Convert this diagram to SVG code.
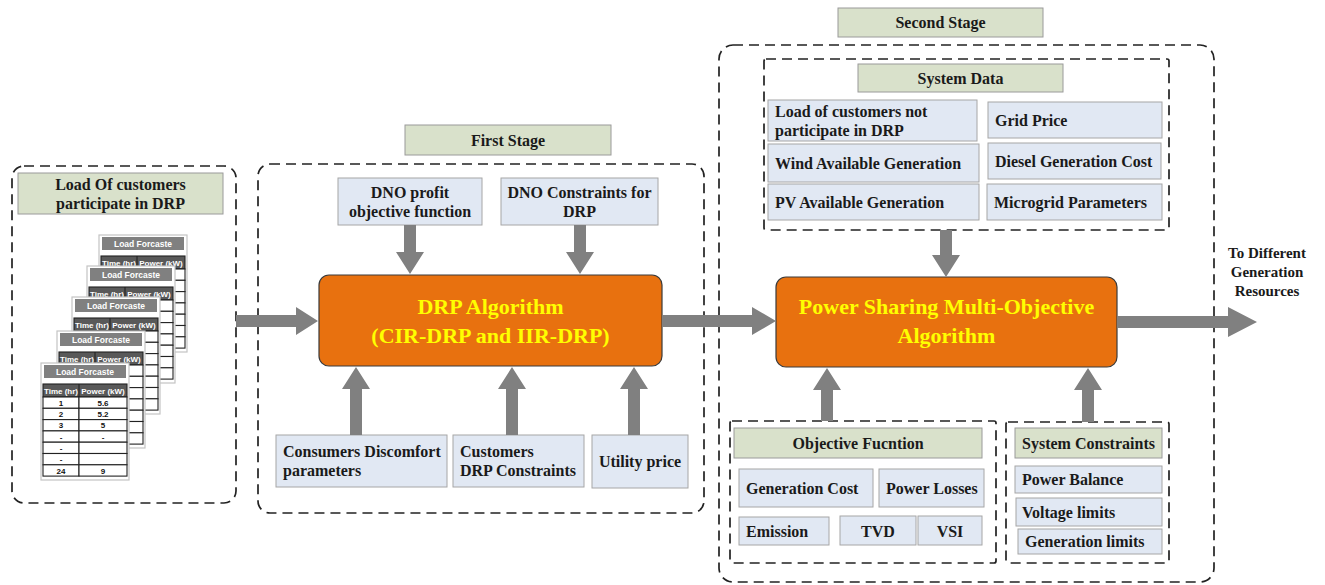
<svg xmlns="http://www.w3.org/2000/svg" xmlns:xlink="http://www.w3.org/1999/xlink" width="1325" height="585" viewBox="0 0 1325 585">
  <style>
    .t { font-family: "Liberation Serif", "Times New Roman", serif; font-weight: bold; font-size: 16px; fill: #1a1a1a; }
    .c { text-anchor: middle; }
    .big { font-size: 22px; fill: #ffff00; text-anchor: middle; }
    .side { font-size: 15px; text-anchor: middle; }
    .box { fill: #e1e8f3; stroke: #a6a6a6; stroke-width: 1; }
    .lbl { fill: #d9e1cb; stroke: #9a9a9a; stroke-width: 1; }
    .grp { fill: none; stroke: #222; stroke-width: 1.7; stroke-dasharray: 10 6; }
    .algo { fill: #e8710f; stroke: #3a3a3a; stroke-width: 1.2; }
    .arr { fill: #808080; }
    .tb { font-family: "Liberation Sans", Arial, sans-serif; font-weight: bold; font-size: 8px; text-anchor: middle; }
    .tt { font-size: 8.5px; }
    .tw { fill: #ffffff; }
    .tk { fill: #111; }
    .cell { fill: #ffffff; stroke: #222; stroke-width: 1.1; }
  </style>
  <defs>
    <!-- one load-forecast sheet, origin at its top-left corner -->
    <g id="card">
      <rect x="0" y="0" width="88" height="117" fill="#ffffff" stroke="#c4c4c4" stroke-width="1.2"/>
      <rect x="3" y="2" width="82" height="13" fill="#808080"/>
      <text class="tb tt tw" x="44" y="11.8">Load Forcaste</text>
      <rect x="2" y="21" width="84" height="13" fill="#595959" stroke="#222" stroke-width="1.1"/>
      <line x1="38" y1="21" x2="38" y2="34" stroke="#222" stroke-width="1.1"/>
      <text class="tb tw" x="20" y="30.5">Time (hr)</text>
      <text class="tb tw" x="62" y="30.5">Power (kW)</text>
      <rect class="cell" x="2" y="34" width="36" height="11.3"/>
      <rect class="cell" x="38" y="34" width="48" height="11.3"/>
      <rect class="cell" x="2" y="45.3" width="36" height="11.3"/>
      <rect class="cell" x="38" y="45.3" width="48" height="11.3"/>
      <rect class="cell" x="2" y="56.6" width="36" height="11.3"/>
      <rect class="cell" x="38" y="56.6" width="48" height="11.3"/>
      <rect class="cell" x="2" y="67.9" width="36" height="11.3"/>
      <rect class="cell" x="38" y="67.9" width="48" height="11.3"/>
      <rect class="cell" x="2" y="79.2" width="36" height="11.3"/>
      <rect class="cell" x="38" y="79.2" width="48" height="11.3"/>
      <rect class="cell" x="2" y="90.5" width="36" height="11.3"/>
      <rect class="cell" x="38" y="90.5" width="48" height="11.3"/>
      <rect class="cell" x="2" y="101.8" width="36" height="11.3"/>
      <rect class="cell" x="38" y="101.8" width="48" height="11.3"/>
    </g>
  </defs>

  <rect x="0" y="0" width="1325" height="585" fill="#ffffff"/>

  <!-- Input load data -->
  <g id="load-input">
    <rect class="grp" x="12" y="166" width="224" height="337" rx="12"/>
    <rect class="lbl" x="18" y="173" width="205" height="41"/>
    <text class="t c" x="120.5" y="189.5">Load Of customers</text>
    <text class="t c" x="120.5" y="208.5">participate in DRP</text>
    <use xlink:href="#card" x="99" y="235"/>
    <use xlink:href="#card" x="87" y="266"/>
    <use xlink:href="#card" x="72" y="297"/>
    <use xlink:href="#card" x="57" y="331"/>
    <use xlink:href="#card" x="41" y="363"/>
    <g class="tb tk" transform="translate(41,363)">
      <text x="20" y="42.8">1</text><text x="62" y="42.8">5.6</text>
      <text x="20" y="54.1">2</text><text x="62" y="54.1">5.2</text>
      <text x="20" y="65.4">3</text><text x="62" y="65.4">5</text>
      <text x="20" y="76.7">-</text><text x="62" y="76.7">-</text>
      <text x="20" y="88">-</text>
      <text x="20" y="99.3">-</text>
      <text x="20" y="110.6">24</text><text x="62" y="110.6">9</text>
    </g>
  </g>

  <!-- First stage -->
  <g id="first-stage">
    <rect class="lbl" x="405" y="125" width="206" height="30"/>
    <text class="t c" x="508" y="145.5">First Stage</text>
    <rect class="grp" x="258" y="164" width="446" height="349" rx="12"/>
  </g>
  <g id="dno-profit">
    <rect class="box" x="338" y="178" width="144" height="47"/>
    <text class="t c" x="410" y="197.5">DNO profit</text>
    <text class="t c" x="410" y="216.5">objective function</text>
  </g>
  <g id="dno-constraints">
    <rect class="box" x="501" y="178" width="157" height="47"/>
    <text class="t c" x="579.5" y="197.5">DNO Constraints for</text>
    <text class="t c" x="579.5" y="216.5">DRP</text>
  </g>
  <g id="drp-algorithm">
    <rect class="algo" x="319" y="275" width="343" height="91" rx="10"/>
    <text class="t big" x="490.5" y="314">DRP Algorithm</text>
    <text class="t big" x="490.5" y="343">(CIR-DRP and IIR-DRP)</text>
  </g>
  <g id="discomfort">
    <rect class="box" x="276" y="435" width="171" height="52"/>
    <text class="t" x="283" y="457">Consumers Discomfort</text>
    <text class="t" x="283" y="476">parameters</text>
  </g>
  <g id="customer-constraints">
    <rect class="box" x="453" y="435" width="131" height="52"/>
    <text class="t" x="460" y="457">Customers</text>
    <text class="t" x="460" y="476">DRP Constraints</text>
  </g>
  <g id="utility-price">
    <rect class="box" x="592" y="435" width="96" height="53"/>
    <text class="t c" x="640" y="467">Utility price</text>
  </g>

  <!-- Second stage -->
  <g id="second-stage">
    <rect class="lbl" x="838" y="8" width="205" height="29"/>
    <text class="t c" x="940.5" y="28">Second Stage</text>
    <rect class="grp" x="719" y="45" width="495" height="537" rx="14"/>
  </g>
  <g id="system-data">
    <rect class="grp" x="764" y="59" width="405" height="171" rx="2"/>
    <rect class="lbl" x="858" y="64" width="205" height="28"/>
    <text class="t c" x="960.5" y="83.5">System Data</text>
  </g>
  <g id="load-not-drp">
    <rect class="box" x="768" y="100" width="209" height="41"/>
    <text class="t" x="775" y="116.5">Load of customers not</text>
    <text class="t" x="775" y="135.5">participate in DRP</text>
  </g>
  <g id="grid-price">
    <rect class="box" x="988" y="102" width="174" height="36"/>
    <text class="t" x="995" y="125.5">Grid Price</text>
  </g>
  <g id="wind">
    <rect class="box" x="768" y="144" width="211" height="38"/>
    <text class="t" x="775" y="168.5">Wind Available Generation</text>
  </g>
  <g id="diesel">
    <rect class="box" x="988" y="143" width="173" height="36"/>
    <text class="t" x="995" y="166.5">Diesel Generation Cost</text>
  </g>
  <g id="pv">
    <rect class="box" x="768" y="184" width="211" height="36"/>
    <text class="t" x="775" y="207.5">PV Available Generation</text>
  </g>
  <g id="microgrid">
    <rect class="box" x="987" y="184" width="175" height="36"/>
    <text class="t" x="994" y="207.5">Microgrid Parameters</text>
  </g>
  <g id="power-sharing">
    <rect class="algo" x="776" y="277" width="341" height="90" rx="10"/>
    <text class="t big" x="946.5" y="314">Power Sharing Multi-Objective</text>
    <text class="t big" x="946.5" y="343">Algorithm</text>
  </g>
  <g id="objective-function">
    <rect class="grp" x="730" y="421" width="266" height="142" rx="2"/>
    <rect class="lbl" x="734" y="428" width="248" height="30"/>
    <text class="t c" x="858" y="448.5">Objective Fucntion</text>
    <rect class="box" x="739" y="469" width="134" height="38"/>
    <text class="t" x="746" y="493.5">Generation Cost</text>
    <rect class="box" x="879" y="469" width="105" height="38"/>
    <text class="t" x="886" y="493.5">Power Losses</text>
    <rect class="box" x="739" y="517" width="90" height="28"/>
    <text class="t" x="746" y="536.5">Emission</text>
    <rect class="box" x="840" y="516" width="76" height="29"/>
    <text class="t c" x="878" y="536.5">TVD</text>
    <rect class="box" x="918" y="516" width="64" height="29"/>
    <text class="t c" x="950" y="536.5">VSI</text>
  </g>
  <g id="system-constraints">
    <rect class="grp" x="1006" y="422" width="163" height="141" rx="2"/>
    <rect class="lbl" x="1015" y="428" width="147" height="30"/>
    <text class="t c" x="1088.5" y="448.5">System Constraints</text>
    <rect class="box" x="1015" y="466" width="147" height="27"/>
    <text class="t" x="1022" y="485">Power Balance</text>
    <rect class="box" x="1016" y="498" width="146" height="28"/>
    <text class="t" x="1022" y="517.5">Voltage limits</text>
    <rect class="box" x="1018" y="529" width="144" height="25"/>
    <text class="t" x="1025" y="547">Generation limits</text>
  </g>
  <g id="output">
    <text class="t side" x="1267" y="258">To Different</text>
    <text class="t side" x="1267" y="277">Generation</text>
    <text class="t side" x="1267" y="296">Resources</text>
  </g>

  <!-- Connectors -->
  <g id="connectors" class="arr">
    <polygon points="236,315 296,315 296,307 318,321 296,335 296,327 236,327"/>
    <polygon points="662,315 752,315 752,307 776,321 752,335 752,327 662,327"/>
    <polygon points="1117,316 1228,316 1228,307 1257,322 1228,337 1228,328 1117,328"/>
    <polygon points="404,225 416,225 416,252 424,252 410,274 396,252 404,252"/>
    <polygon points="574,225 586,225 586,252 594,252 580,274 566,252 574,252"/>
    <polygon points="350,435 362,435 362,389 370,389 356,367 342,389 350,389"/>
    <polygon points="506,435 518,435 518,389 526,389 512,367 498,389 506,389"/>
    <polygon points="628,435 640,435 640,389 648,389 634,367 620,389 628,389"/>
    <polygon points="940,230 952,230 952,255 960,255 946,277 932,255 940,255"/>
    <polygon points="821,421 833,421 833,390 841,390 827,368 813,390 821,390"/>
    <polygon points="1082,422 1094,422 1094,390 1102,390 1088,368 1074,390 1082,390"/>
  </g>
</svg>
